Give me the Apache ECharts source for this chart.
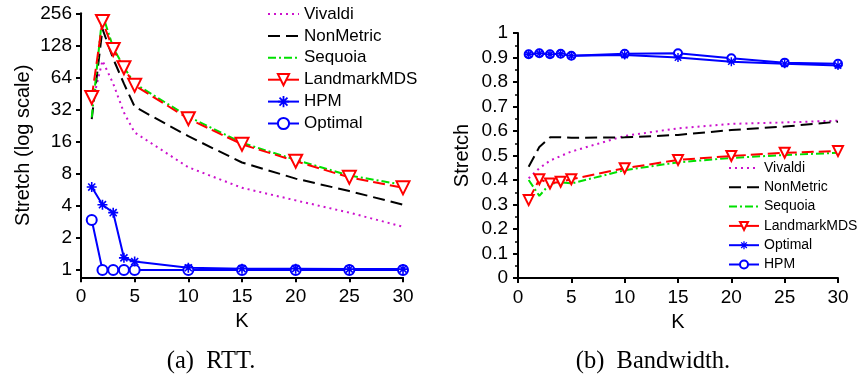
<!DOCTYPE html>
<html>
<head>
<meta charset="utf-8">
<script src="https://cdn.jsdelivr.net/npm/echarts@6/dist/echarts.min.js"></script>
<style>
  html, body { margin: 0; padding: 0; background: #fff; }
  #chart { width: 861px; height: 379px; }
</style>
</head>
<body>
<div id="chart"></div>
<script>
// Number of landmarks K on both panels
const K = [1, 2, 3, 4, 5, 10, 15, 20, 25, 30];

// (a) RTT stretch, log-scale axis
const rttVivaldi     = [35, 92, 56, 30, 19.5, 9.2, 5.9, 4.5, 3.45, 2.55];
const rttNonMetric   = [26, 183, 96, 56, 34, 18, 10.2, 7.2, 5.5, 4.1];
const rttSequoia     = [27, 250, 122, 80, 56, 27.5, 15.6, 10.8, 7.7, 6.3];
const rttLandmarkMDS = [41.5, 215, 117, 79, 54, 26.3, 15.1, 10.5, 7.4, 5.9];
const rttHPM         = [6.0, 4.1, 3.45, 1.3, 1.2, 1.05, 1.03, 1.03, 1.02, 1.02];
const rttOptimal     = [2.95, 1, 1, 1, 1, 1, 1, 1, 1, 1];

// (b) Bandwidth stretch
const bwVivaldi     = [0.407, 0.448, 0.479, 0.498, 0.516, 0.58, 0.611, 0.629, 0.635, 0.642];
const bwNonMetric   = [0.454, 0.535, 0.574, 0.575, 0.572, 0.574, 0.584, 0.604, 0.618, 0.638];
const bwSequoia     = [0.40, 0.335, 0.385, 0.39, 0.386, 0.44, 0.472, 0.49, 0.502, 0.511];
const bwLandmarkMDS = [0.318, 0.403, 0.386, 0.393, 0.403, 0.448, 0.482, 0.498, 0.511, 0.518];
const bwOptimal     = [0.913, 0.917, 0.913, 0.915, 0.907, 0.91, 0.90, 0.883, 0.874, 0.867];
const bwHPM         = [0.913, 0.917, 0.913, 0.915, 0.907, 0.915, 0.917, 0.897, 0.879, 0.874];

// Tick values
const rttTicks = [1, 2, 4, 8, 16, 32, 64, 128, 256];
const kTicks = [0, 5, 10, 15, 20, 25, 30];

const FONT = 'Liberation Sans';
const MAGENTA = '#cc11cc', BLACK = '#000000', GREEN = '#00e000', RED = '#ff0000', BLUE = '#0000ff';
const DOT = [2, 4], DASH = [12, 6], DASHDOT = [8, 3, 2, 3], RDASH = [12, 5];

// Eight-ray asterisk marker built from four thin bars
const ASTERISK = 'path://M0 4.2H10V5.8H0Z M4.2 0H5.8V10H4.2Z ' +
  'M2.03 0.89L9.11 7.97L7.97 9.11L0.89 2.03Z M9.11 2.03L2.03 9.11L0.89 7.97L7.97 0.89Z';

const pairs = arr => K.map((k, i) => [k, arr[i]]);

function line(name, arr, xi, yi, color, dash, marker) {
  const s = {
    name, type: 'line', xAxisIndex: xi, yAxisIndex: yi, data: pairs(arr),
    clip: false, silent: true,
    lineStyle: { color, width: 2, type: dash || 'solid' },
    itemStyle: { color, borderWidth: 0 },
    symbol: 'none', showSymbol: false
  };
  if (marker) {
    s.symbol = marker.symbol;
    s.showSymbol = true;
    s.symbolSize = marker.size;
    if (marker.rotate) s.symbolRotate = marker.rotate;
    if (marker.symbol.indexOf('empty') === 0) s.itemStyle.borderWidth = 2;
  }
  return s;
}

const stripPanel = n => n.replace(/ \((RTT|Bandwidth)\)$/, '');
const noMarker = { itemStyle: { opacity: 0 } };

const axisLine = { show: true, lineStyle: { color: '#000', width: 2 } };
const tickStyle = { show: true, length: 5, inside: false, lineStyle: { color: '#000', width: 2 } };
const labelStyle = { color: '#000', fontFamily: FONT, fontSize: 19 };
const nameStyle = { color: '#000', fontFamily: FONT, fontSize: 20 };

const option = {
  animation: false,
  backgroundColor: '#ffffff',
  grid: [
    { left: 81, top: 13.3, width: 322, height: 256.7 },   // RTT data area (1..256)
    { left: 81, top: 13.3, width: 322, height: 264 },     // RTT frame down to the K axis
    { left: 518, top: 33, width: 320, height: 245 }       // Bandwidth
  ],
  xAxis: [
    { gridIndex: 0, type: 'value', min: 0, max: 30, show: false },
    { gridIndex: 1, type: 'value', min: kTicks[0], max: kTicks[kTicks.length - 1], interval: 5,
      axisLine, axisTick: tickStyle, splitLine: { show: false },
      axisLabel: Object.assign({ margin: 10 }, labelStyle),
      name: 'K', nameLocation: 'middle', nameGap: 34, nameTextStyle: nameStyle },
    { gridIndex: 2, type: 'value', min: kTicks[0], max: kTicks[kTicks.length - 1], interval: 5,
      axisLine, axisTick: tickStyle, splitLine: { show: false },
      axisLabel: Object.assign({ margin: 10 }, labelStyle),
      name: 'K', nameLocation: 'middle', nameGap: 34, nameTextStyle: nameStyle }
  ],
  yAxis: [
    { gridIndex: 0, type: 'log', logBase: 2, min: rttTicks[0], max: rttTicks[rttTicks.length - 1], interval: 1,
      axisLine: { show: false }, axisTick: tickStyle, splitLine: { show: false },
      axisLabel: Object.assign({ margin: 9 }, labelStyle) },
    { gridIndex: 1, type: 'value', min: 0, max: 1,
      axisLine, axisTick: { show: false }, axisLabel: { show: false }, splitLine: { show: false },
      name: 'Stretch (log scale)', nameLocation: 'middle', nameGap: 48, nameTextStyle: nameStyle },
    { gridIndex: 2, type: 'value', min: 0, max: 1, interval: 0.1,
      axisLine, axisTick: tickStyle, splitLine: { show: false },
      minorTick: { show: true, splitNumber: 2, length: 3, lineStyle: { color: '#000', width: 1.5 } },
      minorSplitLine: { show: false },
      axisLabel: Object.assign({ margin: 10 }, labelStyle),
      name: 'Stretch', nameLocation: 'middle', nameGap: 46, nameTextStyle: nameStyle }
  ],
  legend: [
    { left: 267, top: 5.5, padding: 0, orient: 'vertical', itemWidth: 31, itemHeight: 14, itemGap: 4.9,
      selectedMode: false, formatter: stripPanel,
      textStyle: { color: '#000', fontFamily: FONT, fontSize: 17 },
      data: [
        Object.assign({ name: 'Vivaldi (RTT)' }, noMarker),
        Object.assign({ name: 'NonMetric (RTT)' }, noMarker),
        Object.assign({ name: 'Sequoia (RTT)' }, noMarker),
        { name: 'LandmarkMDS (RTT)', lineStyle: { type: 'solid' } },
        { name: 'HPM (RTT)', itemStyle: { borderWidth: 0 } },
        { name: 'Optimal (RTT)' }
      ] },
    { left: 728, top: 161, padding: 0, orient: 'vertical', itemWidth: 30, itemHeight: 10, itemGap: 5.3,
      selectedMode: false, formatter: stripPanel,
      textStyle: { color: '#000', fontFamily: FONT, fontSize: 14 },
      data: [
        Object.assign({ name: 'Vivaldi (Bandwidth)' }, noMarker),
        Object.assign({ name: 'NonMetric (Bandwidth)' }, noMarker),
        Object.assign({ name: 'Sequoia (Bandwidth)' }, noMarker),
        { name: 'LandmarkMDS (Bandwidth)', lineStyle: { type: 'solid' } },
        { name: 'Optimal (Bandwidth)', itemStyle: { borderWidth: 0 } },
        { name: 'HPM (Bandwidth)' }
      ] }
  ],
  series: [
    line('Vivaldi (RTT)', rttVivaldi, 0, 0, MAGENTA, DOT),
    line('NonMetric (RTT)', rttNonMetric, 0, 0, BLACK, DASH),
    line('Sequoia (RTT)', rttSequoia, 0, 0, GREEN, DASHDOT),
    line('LandmarkMDS (RTT)', rttLandmarkMDS, 0, 0, RED, RDASH, { symbol: 'emptyTriangle', size: 13, rotate: 180 }),
    line('Optimal (RTT)', rttOptimal, 0, 0, BLUE, null, { symbol: 'emptyCircle', size: 10 }),
    line('HPM (RTT)', rttHPM, 0, 0, BLUE, null, { symbol: ASTERISK, size: 10 }),

    line('Vivaldi (Bandwidth)', bwVivaldi, 2, 2, MAGENTA, DOT),
    line('NonMetric (Bandwidth)', bwNonMetric, 2, 2, BLACK, DASH),
    line('Sequoia (Bandwidth)', bwSequoia, 2, 2, GREEN, DASHDOT),
    line('LandmarkMDS (Bandwidth)', bwLandmarkMDS, 2, 2, RED, RDASH, { symbol: 'emptyTriangle', size: 10, rotate: 180 }),
    line('HPM (Bandwidth)', bwHPM, 2, 2, BLUE, null, { symbol: 'emptyCircle', size: 8 }),
    line('Optimal (Bandwidth)', bwOptimal, 2, 2, BLUE, null, { symbol: ASTERISK, size: 9 })
  ],
  graphic: [
    { type: 'text', x: 211, y: 362, silent: true,
      style: { text: '(a)  RTT.', fontFamily: 'Liberation Serif', fontSize: 24.5, fill: '#000', align: 'center', verticalAlign: 'middle' } },
    { type: 'text', x: 653, y: 362, silent: true,
      style: { text: '(b)  Bandwidth.', fontFamily: 'Liberation Serif', fontSize: 24.5, fill: '#000', align: 'center', verticalAlign: 'middle' } }
  ]
};

const chart = echarts.init(document.getElementById('chart'), null, { renderer: 'canvas' });
chart.setOption(option);
</script>
</body>
</html>
